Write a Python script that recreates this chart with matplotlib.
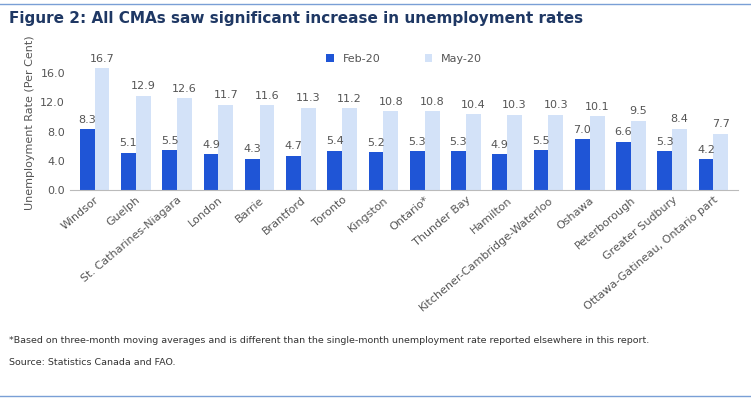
import matplotlib.pyplot as plt
import numpy as np

regions = ["Windsor", "Guelph", "St. Catharines-Niagara", "London", "Barrie", "Brantford",
           "Toronto", "Kingston", "Ontario*", "Thunder Bay", "Hamilton",
           "Kitchener-Cambridge-Waterloo", "Oshawa", "Peterborough", "Greater Sudbury",
           "Ottawa-Gatineau, Ontario part"]
feb20 = [8.3, 5.1, 5.5, 4.9, 4.3, 4.7, 5.4, 5.2, 5.3, 5.3, 4.9, 5.5, 7.0, 6.6, 5.3, 4.2]
may20 = [16.7, 12.9, 12.6, 11.7, 11.6, 11.3, 11.2, 10.8, 10.8, 10.4, 10.3, 10.3, 10.1, 9.5, 8.4, 7.7]

FEB_COL = "#1f55d6"
MAY_COL = "#d3e2f8"
TXT = "#555555"

fig = plt.figure(figsize=(7.51, 4.01), dpi=100)
ax = fig.add_axes([0.093, 0.526, 0.89, 0.337])

x = np.arange(len(regions))
w = 0.36
ax.bar(x - w / 2, feb20, w, color=FEB_COL, label="Feb-20")
ax.bar(x + w / 2, may20, w, color=MAY_COL, label="May-20")
for i in range(len(regions)):
    ax.text(x[i] - w / 2, feb20[i] + 0.6, "%.1f" % feb20[i], ha="center", va="bottom", fontsize=8, color=TXT)
    ax.text(x[i] + w / 2, may20[i] + 0.6, "%.1f" % may20[i], ha="center", va="bottom", fontsize=8, color=TXT)

ax.set_ylim(0, 18.5)
ax.set_xlim(-0.6, len(regions) - 0.4)
ax.set_yticks([0, 4, 8, 12, 16])
ax.set_yticklabels(["%.1f" % v for v in [0, 4, 8, 12, 16]], fontsize=8, color=TXT)
ax.set_xticks(x)
ax.set_xticklabels(regions, rotation=40, ha="right", rotation_mode="anchor", fontsize=8, color=TXT)
ax.tick_params(length=0)
ax.set_ylabel("Unemployment Rate (Per Cent)", fontsize=8, color=TXT)
for s in ["top", "right", "left"]:
    ax.spines[s].set_visible(False)
ax.spines["bottom"].set_color("#bbbbbb")
ax.legend(loc="upper center", bbox_to_anchor=(0.5, 1.08), ncol=2, frameon=False, fontsize=8,
          handlelength=0.7, handleheight=0.7, columnspacing=4, labelcolor=TXT)

fig.text(0.012, 0.955, "Figure 2: All CMAs saw significant increase in unemployment rates",
         fontsize=11, fontweight="bold", color="#1f3864", va="center")
fig.lines.append(plt.Line2D([0.0, 1.0], [0.99, 0.99], transform=fig.transFigure, color="#7a9fd6", lw=1))
fig.lines.append(plt.Line2D([0.0, 1.0], [0.012, 0.012], transform=fig.transFigure, color="#7a9fd6", lw=1))
fig.text(0.012, 0.152, "*Based on three-month moving averages and is different than the single-month unemployment rate reported elsewhere in this report.",
         fontsize=6.8, color="#333333", va="center")
fig.text(0.012, 0.097, "Source: Statistics Canada and FAO.", fontsize=6.8, color="#333333", va="center")

fig.savefig("out.png", dpi=100)
